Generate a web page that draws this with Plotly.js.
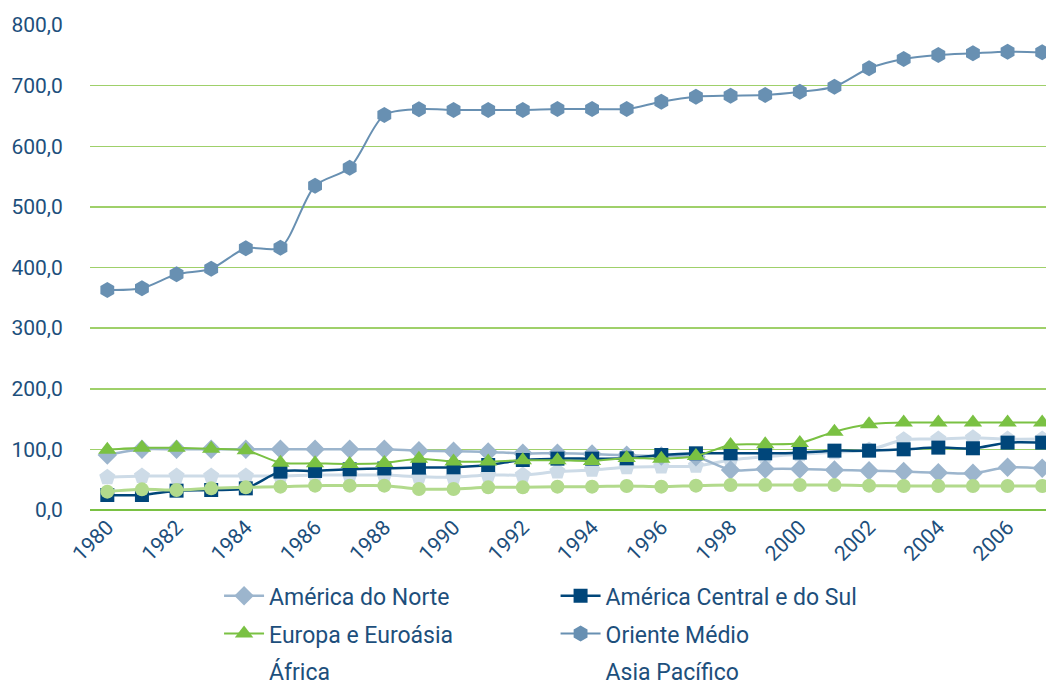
<!DOCTYPE html>
<html>
<head>
<meta charset="utf-8">
<script src="https://cdn.plot.ly/plotly-3.0.1.min.js"></script>
<style>
html,body{margin:0;padding:0;background:#fff;}
#chart{width:1046px;height:686px;}
</style>
</head>
<body>
<div id="chart"></div>
<script>
const years = [1980,1981,1982,1983,1984,1985,1986,1987,1988,1989,1990,1991,1992,1993,1994,1995,1996,1997,1998,1999,2000,2001,2002,2003,2004,2005,2006,2007];

const americaNorte = [90.7,100,100,100,100,100,100,100,100,97.9,96.8,95.7,93.5,93.5,92.4,90.2,89,88,66,67.7,67.7,66,64.9,63.3,61.6,60.5,70.4,68.8];
const americaCentralSul = [24.7,24.7,31.9,33,35.7,63.3,64.4,67.1,68.5,69.9,70.4,74.2,82.5,84.7,84.7,85.2,90.7,93.5,93.5,93.5,94.6,97.9,97.9,100.1,102.9,101.8,111.1,111.1];
const europaEuroasia = [99.5,102.6,102.6,100.9,98.4,78,77,75.9,77.5,84.7,79.8,80,82,82,81,85.8,84.7,89.1,107.2,108.3,110.5,129.2,141.4,144.3,144.3,144.3,144.3,144.3];
const orienteMedio = [362.9,365.7,388.8,398,431.7,432.7,535,564.6,651.5,661,660,660,660,661.4,661.5,661.5,673.5,681.7,683.4,684.5,690,698.2,728.6,744,750.5,753.3,756,755];
const africa = [53.9,56,56,56,56,56,57.7,57.7,57.7,55,54,57.7,57.7,63.3,66,70.4,71.5,72.6,82.5,88,91.9,95.2,99,116,117,119,117,117];
const asiaPacifico = [30.3,34.1,33,35.7,37.4,38.5,40.2,40.2,40.2,34.6,34.6,37.4,37.4,38.5,38.5,39.6,38.5,40.2,41.2,41.2,41.2,41.2,40.2,39.6,39.6,39.6,39.6,39.6];

const yTicks = [0,100,200,300,400,500,600,700,800];

const FONT = 'Roboto, "Noto Sans", sans-serif';
const TXT = '#1d4f7c';

function series(name, y, color, symbol, size, lw, legend, rank, show) {
  return {
    type: 'scatter', mode: 'lines+markers', x: years, y: y, name: name,
    line: {color: color, width: lw, shape: 'spline', smoothing: 0.8},
    marker: {symbol: symbol, size: size, color: color, line: {width: 0}},
    legend: legend, legendrank: rank, legendgroup: name, showlegend: show,
    hoverinfo: 'x+y+name'
  };
}
function ghost(name, legend, rank) {
  return {
    type: 'scatter', mode: 'lines', x: [null], y: [null], name: name,
    line: {color: 'rgba(0,0,0,0)', width: 0},
    legend: legend, legendrank: rank, legendgroup: name, showlegend: true
  };
}

const data = [
  series('África', africa, '#cddbe7', 'pentagon', 17, 3, 'legend', 3, false),
  series('América do Norte', americaNorte, '#9cb5cd', 'diamond', 15, 2.5, 'legend', 1, true),
  series('América Central e do Sul', americaCentralSul, '#00467a', 'square', 14, 2.5, 'legend2', 1, true),
  series('Europa e Euroásia', europaEuroasia, '#7ac143', 'triangle-up', 16, 2, 'legend', 2, true),
  series('Oriente Médio', orienteMedio, '#6890b2', 'hexagon', 16, 2, 'legend2', 2, true),
  series('Asia Pacífico', asiaPacifico, '#b2da8c', 'circle', 14, 3, 'legend2', 3, false),
  ghost('África', 'legend', 3),
  ghost('Asia Pacífico', 'legend2', 3)
];

const legendCommon = {
  orientation: 'v', yref: 'container', yanchor: 'top', xanchor: 'left', y: 0.163,
  font: {family: FONT, size: 23, color: TXT},
  bgcolor: 'rgba(0,0,0,0)', tracegroupgap: 5, itemwidth: 40
};

const layout = {
  width: 1046, height: 686,
  margin: {l: 90, r: 0, t: 25, b: 176, autoexpand: false},
  paper_bgcolor: '#fff', plot_bgcolor: '#fff',
  separators: ',.',
  font: {family: FONT, color: TXT},
  showlegend: true,
  xaxis: {
    range: [1979.5, 2007.11], tickmode: 'linear', tick0: 1980, dtick: 2,
    tickangle: -45, showgrid: false, zeroline: false, showline: false,
    ticks: '', tickfont: {family: FONT, size: 21, color: TXT}, automargin: false
  },
  yaxis: {
    range: [0, 800], tickmode: 'array', tickvals: yTicks,
    tickformat: '.1f', showgrid: true, gridcolor: '#9fd06a', gridwidth: 1.5,
    zeroline: true, zerolinecolor: '#7ac143', zerolinewidth: 1.5,
    showline: false, ticks: 'outside', ticklen: 22, tickcolor: 'rgba(0,0,0,0)',
    tickfont: {family: FONT, size: 21, color: TXT}, automargin: false
  },
  legend: Object.assign({}, legendCommon, {x: 0.135}),
  legend2: Object.assign({}, legendCommon, {x: 0.487})
};

Plotly.newPlot('chart', data, layout, {displayModeBar: false, staticPlot: true});
</script>
</body>
</html>
